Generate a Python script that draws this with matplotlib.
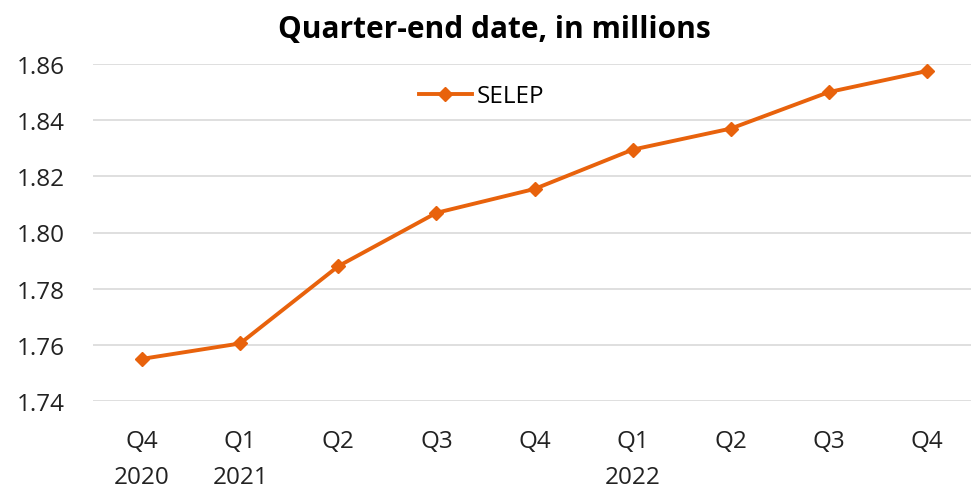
import matplotlib
matplotlib.use("Agg")
import matplotlib.pyplot as plt

quarters = ["Q4\n2020", "Q1\n2021", "Q2", "Q3", "Q4", "Q1\n2022", "Q2", "Q3", "Q4"]
selep = [1.755, 1.7605, 1.788, 1.807, 1.8155, 1.8295, 1.837, 1.850, 1.8575]
y_ticks = [1.74, 1.76, 1.78, 1.80, 1.82, 1.84, 1.86]

orange = "#E8620C"
plt.rcParams["font.family"] = ["Open Sans", "DejaVu Sans"]

W, H = 971, 489
fig = plt.figure(figsize=(W / 100, H / 100), dpi=100)
ax = fig.add_axes([93 / W, (H - 402) / H, (976 - 93) / W, (402 - 65) / H])

x = list(range(len(quarters)))
ax.plot(x, selep, color=orange, lw=2.8, marker="D", ms=7.5, label="SELEP")

ax.set_xlim(-0.5, len(quarters) - 0.5)
ax.set_ylim(1.74, 1.86)
ax.set_yticks(y_ticks)
ax.set_yticklabels([f"{v:.2f}" for v in y_ticks])
ax.set_xticks(x)
ax.set_xticklabels(quarters, linespacing=1.68, va="top")
ax.tick_params(axis="both", length=0, labelsize=17.5, colors="#222222")
ax.tick_params(axis="x", pad=20)
ax.tick_params(axis="y", pad=20)

ax.grid(axis="y", color="#D9D9D9", lw=1.2)
ax.set_axisbelow(True)
for s in ax.spines.values():
    s.set_visible(False)

ax.legend(loc="upper center", bbox_to_anchor=(0.44, 1.005), frameon=False,
          fontsize=17.5, handlelength=2.2, handletextpad=0.2)

fig.text(494 / W, 1 - 30 / H, "Quarter-end date, in millions", ha="center",
         va="center", fontsize=21.5, fontweight="bold", color="#000000")

fig.savefig("out.png", dpi=100)
